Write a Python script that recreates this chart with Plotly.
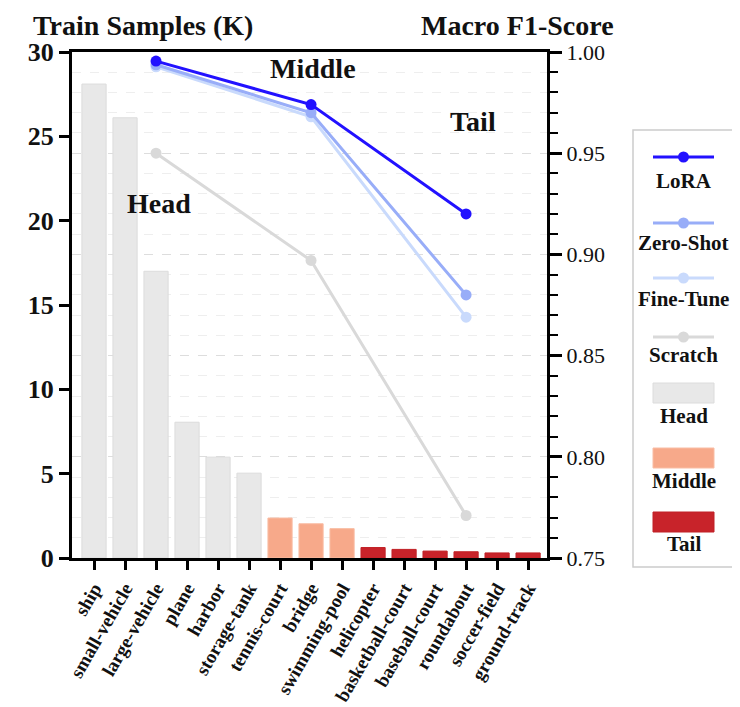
import plotly.graph_objects as go

categories = ["ship", "small-vehicle", "large-vehicle", "plane", "harbor", "storage-tank",
              "tennis-court", "bridge", "swimming-pool", "helicopter", "basketball-court",
              "baseball-court", "roundabout", "soccer-field", "ground-track"]
samples_k = [28.1, 26.1, 17.0, 8.05, 5.98, 5.03, 2.37, 2.03, 1.74, 0.62, 0.51, 0.41, 0.37, 0.30, 0.30]
groups = ["Head"] * 6 + ["Middle"] * 3 + ["Tail"] * 6

f1_x = ["large-vehicle", "bridge", "roundabout"]
f1_lora = [0.9955, 0.974, 0.920]
f1_zeroshot = [0.9937, 0.970, 0.880]
f1_finetune = [0.9927, 0.968, 0.869]
f1_scratch = [0.950, 0.897, 0.771]

group_fill = {"Head": "#e8e8e8", "Middle": "#f7a98a", "Tail": "#c8232a"}
group_edge = {"Head": "#dcdcdc", "Middle": "#f9bda4", "Tail": "#c02026"}
line_colors = {"LoRA": "#2211ff", "Zero-Shot": "#98adf8", "Fine-Tune": "#c9dafc", "Scratch": "#d9d9d9"}

FONT = "Liberation Serif"
TXT = "#111111"
fig = go.Figure()

for g in ["Head", "Middle", "Tail"]:
    xs = [c for c, gg in zip(categories, groups) if gg == g]
    ys = [v for v, gg in zip(samples_k, groups) if gg == g]
    fig.add_trace(go.Bar(x=xs, y=ys, name=g, width=0.78,
                         marker=dict(color=group_fill[g], line=dict(color=group_edge[g], width=1)),
                         showlegend=False, yaxis="y"))

for name, vals in [("Scratch", f1_scratch), ("Fine-Tune", f1_finetune),
                   ("Zero-Shot", f1_zeroshot), ("LoRA", f1_lora)]:
    fig.add_trace(go.Scatter(x=f1_x, y=vals, name=name, mode="lines+markers",
                             line=dict(color=line_colors[name], width=3),
                             marker=dict(color=line_colors[name], size=11),
                             showlegend=False, yaxis="y2"))

# page is offset by the 8px default body margin
OFF = 8
W, H = 740 - OFF, 707 - OFF
L, R, T, B = 72, 547, 52, 558   # plot area in page pixels

def px(x):
    return (x - L) / (R - L)

def py(y):
    return (B - y) / (B - T)

fig.update_layout(
    width=W, height=H,
    margin=dict(l=L - OFF, r=W - (R - OFF), t=T - OFF, b=H - (B - OFF), pad=0, autoexpand=False),
    plot_bgcolor="white", paper_bgcolor="white",
    font=dict(family=FONT, color=TXT),
    xaxis=dict(type="category", categoryorder="array", categoryarray=categories,
               range=[-0.71, 14.61], showline=True, linecolor="black", linewidth=3,
               mirror=True, ticks="outside", ticklen=9, tickwidth=2.5, tickcolor="black",
               tickangle=-60, tickfont=dict(family=FONT, size=19, weight="bold", color=TXT),
               showgrid=False, zeroline=False),
    yaxis=dict(range=[0, 30], dtick=5, showline=True, linecolor="black", linewidth=3,
               ticks="outside", ticklen=10, tickwidth=2.5, tickcolor="black",
               tickfont=dict(family=FONT, size=26, weight="bold", color=TXT),
               showgrid=False, zeroline=False),
    yaxis2=dict(range=[0.75, 1.0], dtick=0.05, tickformat=".2f", overlaying="y", side="right",
                showline=True, linecolor="black", linewidth=3,
                ticks="outside", ticklen=12, tickwidth=2.5, tickcolor="black",
                tickfont=dict(family=FONT, size=22, color=TXT),
                showgrid=True, gridcolor="#dddddd", gridwidth=1, griddash="dash",
                minor=dict(dtick=0.01, ticks="outside", ticklen=8, tickwidth=2, tickcolor="black",
                           showgrid=True, gridcolor="#eeeeee", gridwidth=1, griddash="dash"),
                zeroline=False),
)

# region labels
for txt, xc, yv in [("Head", 2.09, 21.0), ("Middle", 7.07, 29.05), ("Tail", 12.22, 25.9)]:
    fig.add_annotation(x=xc, y=yv, xref="x", yref="y", text=txt, showarrow=False,
                       xanchor="center", yanchor="middle",
                       font=dict(family=FONT, size=28, weight="bold", color=TXT))

# axis titles
fig.add_annotation(x=px(31), y=py(25), xref="paper", yref="paper", xanchor="left", yanchor="middle",
                   text="Train Samples (K)", showarrow=False,
                   font=dict(family=FONT, size=28, weight="bold", color=TXT))
fig.add_annotation(x=px(616), y=py(25), xref="paper", yref="paper", xanchor="right", yanchor="middle",
                   text="Macro F1-Score", showarrow=False,
                   font=dict(family=FONT, size=28, weight="bold", color=TXT))

# custom legend (symbol above label)
fig.add_shape(type="rect", xref="paper", yref="paper", x0=px(633), x1=px(734), y0=py(130), y1=py(567),
              line=dict(color="#cccccc", width=1.5), fillcolor="white", layer="above")
lx0, lx1, lxc = 653, 714, 683.5
leg_lines = [("LoRA", 157, 181), ("Zero-Shot", 223, 243), ("Fine-Tune", 278, 299), ("Scratch", 337, 355)]
for name, ly, ty in leg_lines:
    fig.add_shape(type="line", xref="paper", yref="paper", x0=px(lx0), x1=px(lx1), y0=py(ly), y1=py(ly),
                  line=dict(color=line_colors[name], width=3), layer="above")
    fig.add_shape(type="circle", xref="paper", yref="paper", x0=px(lxc - 5.5), x1=px(lxc + 5.5),
                  y0=py(ly + 5.5), y1=py(ly - 5.5), line=dict(width=0),
                  fillcolor=line_colors[name], layer="above")
    fig.add_annotation(x=px(lxc), y=py(ty), xref="paper", yref="paper", text=name, showarrow=False,
                       xanchor="center", yanchor="middle",
                       font=dict(family=FONT, size=21, weight="bold", color=TXT))
leg_rects = [("Head", 383, 403, 416), ("Middle", 448, 468, 481), ("Tail", 512, 532, 544)]
for name, r0, r1, ty in leg_rects:
    fig.add_shape(type="rect", xref="paper", yref="paper", x0=px(lx0), x1=px(lx1), y0=py(r1), y1=py(r0),
                  line=dict(color=group_edge[name], width=1), fillcolor=group_fill[name], layer="above")
    fig.add_annotation(x=px(lxc), y=py(ty), xref="paper", yref="paper", text=name, showarrow=False,
                       xanchor="center", yanchor="middle",
                       font=dict(family=FONT, size=21, weight="bold", color=TXT))

fig.write_html("out.html")
